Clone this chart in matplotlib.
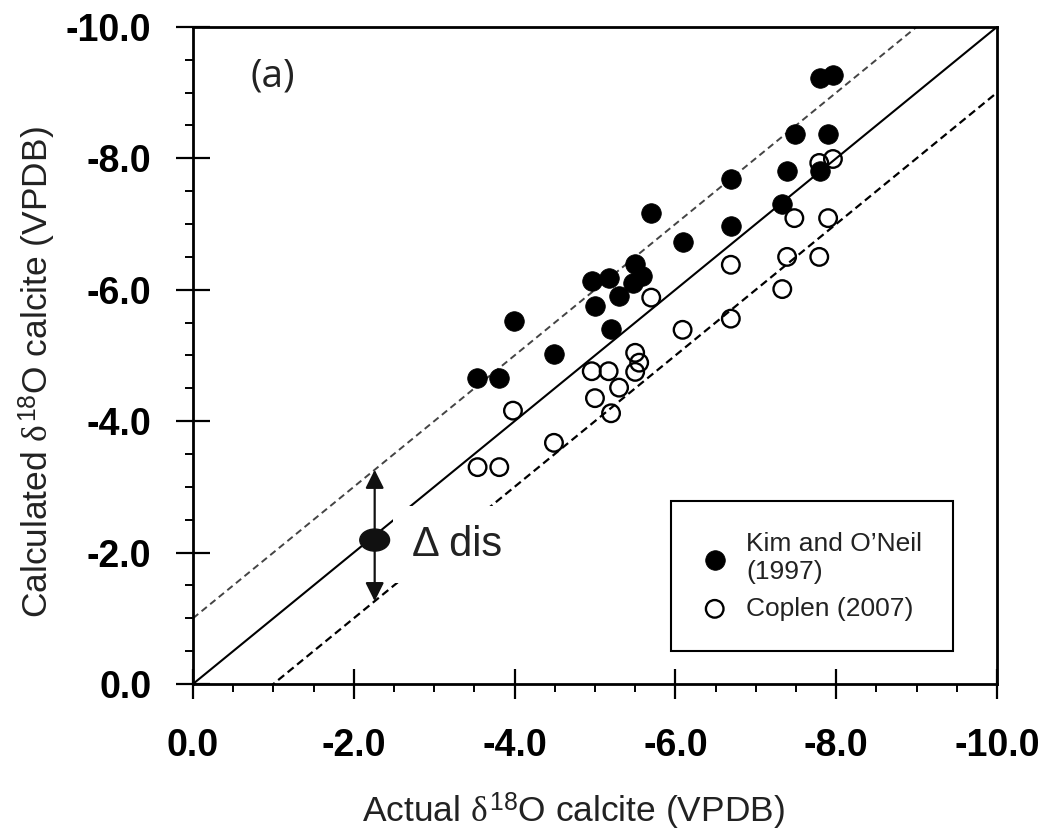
import matplotlib
matplotlib.use("Agg")
import matplotlib.pyplot as plt
from matplotlib.patches import Ellipse
from matplotlib.ticker import FixedLocator, MultipleLocator

plt.rcParams['font.family'] = ['Liberation Sans', 'DejaVu Sans']
plt.rcParams['mathtext.fontset'] = 'custom'
plt.rcParams['mathtext.rm'] = 'Liberation Sans'
plt.rcParams['mathtext.it'] = 'Liberation Serif'
plt.rcParams['mathtext.bf'] = 'Liberation Sans:bold'

# Kim and O'Neil (1997)
kim_actual = [-3.53, -3.81, -3.99, -4.49, -4.96, -5.17, -5.50, -5.58, -5.47, -5.30, -5.00,
              -5.20, -5.70, -6.09, -6.69, -6.69, -7.33, -7.39, -7.49, -7.80, -7.90, -7.80, -7.96]
kim_calc = [-4.66, -4.66, -5.53, -5.02, -6.13, -6.18, -6.39, -6.21, -6.10, -5.91, -5.75,
            -5.40, -7.17, -6.73, -7.69, -6.97, -7.31, -7.81, -8.37, -7.81, -8.37, -9.22, -9.27]

# Coplen (2007)
coplen_actual = [-3.54, -3.81, -3.98, -4.49, -4.96, -5.17, -5.50, -5.55, -5.50, -5.30, -5.00,
                 -5.20, -5.70, -6.09, -6.69, -6.69, -7.33, -7.39, -7.48, -7.79, -7.90, -7.79, -7.96]
coplen_calc = [-3.30, -3.30, -4.16, -3.67, -4.76, -4.76, -5.04, -4.89, -4.75, -4.51, -4.35,
               -4.12, -5.88, -5.39, -6.38, -5.56, -6.01, -6.50, -7.09, -6.50, -7.09, -7.93, -7.99]

line_x = [0.0, -10.0]
dis_offset = 1.0
dis_x = -2.26
dis_y = -2.19
tick_values = [0.0, -2.0, -4.0, -6.0, -8.0, -10.0]

fig = plt.figure(figsize=(10.46, 8.34), dpi=100)
ax = fig.add_axes([0.1845, 0.1799, 0.7686, 0.7878])

ax.plot(line_x, line_x, color='black', lw=1.5, zorder=2)
ax.plot(line_x, [v - dis_offset for v in line_x], color='#444444', lw=1.4,
        dashes=(3.5, 2.2), zorder=2)
ax.plot(line_x, [v + dis_offset for v in line_x], color='black', lw=1.6,
        dashes=(3.5, 2.0), zorder=2)

ax.scatter(kim_actual, kim_calc, s=200, c='black', edgecolors='black', linewidths=0.5,
           zorder=4, label='Kim and O\u2019Neil\n(1997)')
ax.scatter(coplen_actual, coplen_calc, s=160, facecolors='none', edgecolors='black',
           linewidths=1.7, zorder=5, label='Coplen (2007)')

# delta dis annotation
ax.text(dis_x - 0.46, dis_y + 0.07, '\u0394 dis', fontsize=30, color='#222222',
        va='center', ha='left', zorder=3,
        bbox=dict(boxstyle='square,pad=0.45', fc='white', ec='none'))
ax.annotate('', xy=(dis_x, dis_x - dis_offset), xytext=(dis_x, dis_x + dis_offset),
            arrowprops=dict(arrowstyle='<|-|>', color='#111111', lw=1.6,
                            mutation_scale=28, shrinkA=0, shrinkB=0), zorder=6)
ax.add_patch(Ellipse((dis_x, dis_y), 0.37, 0.335, color='#111111', zorder=7))

ax.text(0.0995, 0.925, '(a)', transform=ax.transAxes, fontsize=28, color='#222222',
        family=['Open Sans', 'DejaVu Sans'], ha='center', va='center')

ax.set_xlim(0, -10)
ax.set_ylim(0, -10)
for a in (ax.xaxis, ax.yaxis):
    a.set_major_locator(FixedLocator(tick_values))
    a.set_minor_locator(MultipleLocator(0.5))
ax.set_xticklabels([f'{v:.1f}' for v in tick_values])
ax.set_yticklabels([f'{v:.1f}' for v in tick_values])
for lab in ax.get_xticklabels() + ax.get_yticklabels():
    lab.set_fontweight('bold')
    lab.set_fontsize(27)
ax.tick_params(axis='x', which='major', direction='inout', length=22, width=1.6, pad=21)
ax.tick_params(axis='y', which='major', direction='inout', length=24, width=1.6, pad=18)
ax.tick_params(which='minor', direction='out', length=6, width=1.4)
for sp in ax.spines.values():
    sp.set_linewidth(2.0)

ax.set_xlabel(r'Actual $\delta^{18}$O calcite (VPDB)', fontsize=25.5, color='#222222')
ax.set_ylabel(r'Calculated $\delta^{18}$O calcite (VPDB)', fontsize=25.5, color='#222222')
ax.xaxis.set_label_coords(0.473, -0.163)
ax.yaxis.set_label_coords(-0.167, 0.475)

leg = ax.legend(loc='lower right', bbox_to_anchor=(0.945, 0.05), fontsize=19,
                frameon=True, fancybox=False, framealpha=1, edgecolor='black',
                handlelength=1.0, handletextpad=0.7, borderpad=1.15, labelspacing=0.5,
                borderaxespad=0, scatterpoints=1, markerscale=1.0)
leg.get_frame().set_linewidth(1.5)
for t in leg.get_texts():
    t.set_color('#222222')

fig.savefig('out.png', dpi=100)
